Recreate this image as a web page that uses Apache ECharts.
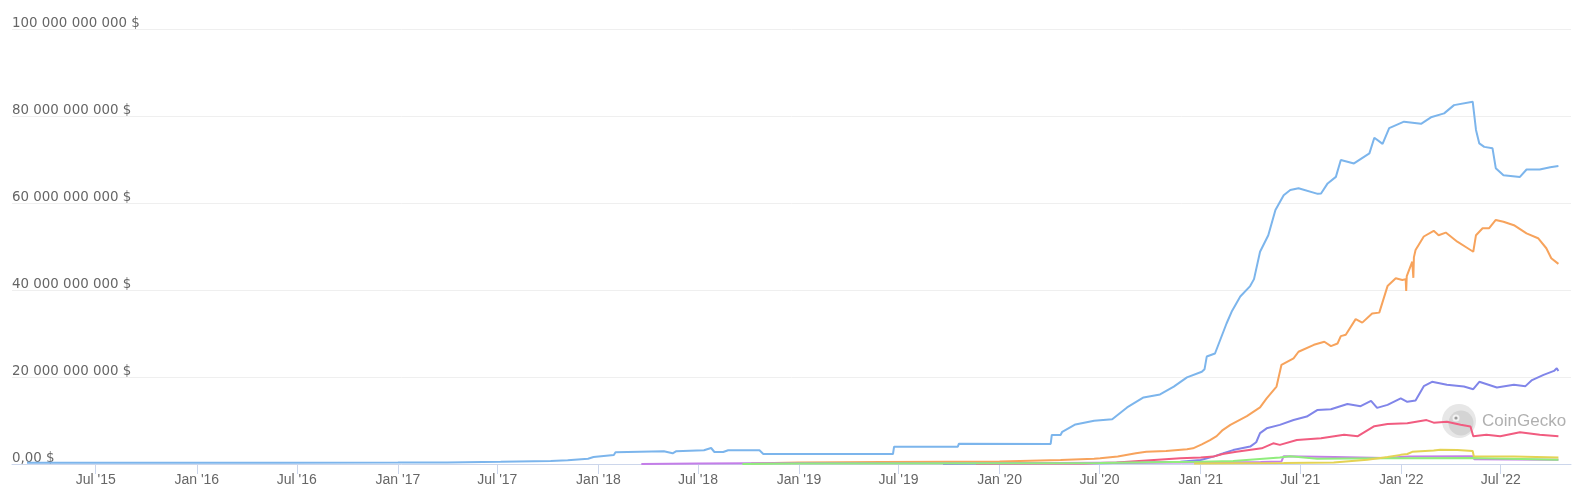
<!DOCTYPE html>
<html>
<head>
<meta charset="utf-8">
<script src="https://cdn.jsdelivr.net/npm/echarts@6.0.0/dist/echarts.min.js"></script>
<style>
html,body{margin:0;padding:0;background:#fff;}
#chart{width:1584px;height:502px;}
</style>
</head>
<body>
<div id="chart"></div>
<script>
// ---- data (values in billions of USD) ----
const tickDates = ['2015-07-01','2016-01-01','2016-07-01','2017-01-01','2017-07-01','2018-01-01','2018-07-01','2019-01-01','2019-07-01','2020-01-01','2020-07-01','2021-01-01','2021-07-01','2022-01-01','2022-07-01'];
const tickLabels = ["Jul '15","Jan '16","Jul '16","Jan '17","Jul '17","Jan '18","Jul '18","Jan '19","Jul '19","Jan '20","Jul '20","Jan '21","Jul '21","Jan '22","Jul '22"];
const yTicks = [0, 20, 40, 60, 80, 100];

const usdt = [['2015-02-26',0.3],['2016-06-01',0.3],['2017-01-01',0.32],['2017-04-01',0.35],['2017-07-07',0.5],['2017-10-06',0.69],['2017-11-06',0.85],['2017-12-13',1.22],['2017-12-23',1.6],['2018-01-29',2.07],['2018-02-01',2.69],['2018-04-30',2.92],['2018-05-16',2.46],['2018-05-22',2.92],['2018-07-12',3.15],['2018-07-25',3.68],['2018-07-31',2.76],['2018-08-16',2.76],['2018-08-25',3.15],['2018-10-21',3.15],['2018-10-28',2.3],['2019-06-21',2.3],['2019-06-23',3.98],['2019-10-17',3.98],['2019-10-19',4.67],['2020-04-03',4.6],['2020-04-05',6.67],['2020-04-21',6.67],['2020-04-24',7.4],['2020-05-18',9.1],['2020-06-21',9.95],['2020-07-24',10.3],['2020-08-20',13.0],['2020-09-19',15.3],['2020-10-19',16.0],['2020-11-13',17.8],['2020-12-07',19.9],['2021-01-03',21.2],['2021-01-08',21.8],['2021-01-12',24.7],['2021-01-27',25.4],['2021-02-17',32.3],['2021-02-27',35.2],['2021-03-14',38.5],['2021-04-01',40.9],['2021-04-08',42.5],['2021-04-19',48.8],['2021-05-04',52.6],['2021-05-17',58.4],['2021-06-01',61.8],['2021-06-13',63.0],['2021-06-28',63.4],['2021-08-02',62.1],['2021-08-08',62.2],['2021-08-20',64.5],['2021-09-04',66.0],['2021-09-13',69.9],['2021-10-07',69.1],['2021-11-04',71.4],['2021-11-13',75.0],['2021-11-28',73.6],['2021-12-10',77.2],['2022-01-06',78.7],['2022-02-06',78.2],['2022-02-24',79.7],['2022-03-20',80.6],['2022-04-07',82.5],['2022-05-11',83.3],['2022-05-17',76.8],['2022-05-23',73.7],['2022-06-01',72.9],['2022-06-16',72.6],['2022-06-22',68.0],['2022-07-06',66.4],['2022-08-05',66.0],['2022-08-17',67.7],['2022-09-10',67.7],['2022-09-29',68.2],['2022-10-14',68.5]];

const usdc = [['2018-10-06',0.1],['2018-11-15',0.25],['2019-01-01',0.35],['2019-06-01',0.45],['2019-10-01',0.5],['2020-01-01',0.55],['2020-04-21',0.9],['2020-06-21',1.2],['2020-07-02',1.3],['2020-08-03',1.7],['2020-09-05',2.45],['2020-09-24',2.8],['2020-10-30',3.0],['2020-12-07',3.4],['2020-12-18',3.6],['2021-01-03',4.5],['2021-01-18',5.5],['2021-01-30',6.4],['2021-02-10',7.8],['2021-02-24',9.0],['2021-03-26',11.0],['2021-04-19',13.0],['2021-05-01',15.1],['2021-05-19',17.8],['2021-05-28',22.8],['2021-06-19',24.3],['2021-06-28',25.8],['2021-07-26',27.4],['2021-08-14',28.1],['2021-08-26',27.1],['2021-09-07',27.7],['2021-09-13',29.4],['2021-09-22',29.7],['2021-10-10',33.3],['2021-10-22',32.5],['2021-11-09',34.6],['2021-11-22',34.8],['2021-12-07',40.9],['2021-12-22',42.7],['2022-01-03',42.3],['2022-01-09',42.5],['2022-01-10',39.8],['2022-01-11',43.2],['2022-01-21',46.5],['2022-01-23',42.8],['2022-01-24',47.5],['2022-01-27',49.2],['2022-02-11',52.3],['2022-03-01',53.6],['2022-03-10',52.6],['2022-03-23',53.2],['2022-04-13',51.1],['2022-05-02',49.6],['2022-05-12',48.8],['2022-05-17',52.6],['2022-05-29',54.2],['2022-06-10',54.2],['2022-06-22',56.1],['2022-07-06',55.7],['2022-07-25',54.9],['2022-08-17',53.0],['2022-09-07',51.9],['2022-09-22',49.6],['2022-10-01',47.3],['2022-10-14',46.0]];

const busd = [['2019-09-20',0.02],['2020-01-01',0.1],['2020-04-01',0.15],['2020-07-01',0.2],['2020-09-15',0.35],['2020-11-25',0.5],['2021-01-01',0.9],['2021-01-24',1.7],['2021-02-10',2.4],['2021-03-01',3.2],['2021-04-01',4.0],['2021-04-12',5.0],['2021-04-19',7.1],['2021-05-01',8.2],['2021-05-25',9.0],['2021-06-19',10.1],['2021-07-13',10.9],['2021-08-01',12.4],['2021-08-26',12.6],['2021-09-25',13.8],['2021-10-19',13.3],['2021-11-07',14.5],['2021-11-18',12.9],['2021-12-07',13.6],['2021-12-31',15.1],['2022-01-12',14.3],['2022-01-27',14.6],['2022-02-11',17.9],['2022-02-26',18.9],['2022-03-25',18.2],['2022-04-25',17.8],['2022-05-12',17.2],['2022-05-23',18.9],['2022-06-24',17.6],['2022-07-25',18.2],['2022-08-15',17.9],['2022-08-27',19.3],['2022-09-17',20.5],['2022-10-06',21.4],['2022-10-11',22.0],['2022-10-14',21.4]];

const dai = [['2019-11-19',0.03],['2020-03-01',0.1],['2020-06-01',0.12],['2020-08-01',0.35],['2020-10-01',0.85],['2020-11-25',1.3],['2021-01-01',1.5],['2021-01-24',1.7],['2021-02-10',2.3],['2021-03-07',2.8],['2021-04-22',3.6],['2021-05-13',4.75],['2021-05-25',4.4],['2021-06-25',5.5],['2021-08-08',5.9],['2021-09-19',6.7],['2021-10-14',6.4],['2021-11-13',8.7],['2021-12-07',9.2],['2022-01-12',9.35],['2022-02-16',10.1],['2022-03-01',9.5],['2022-03-25',9.7],['2022-04-19',9.0],['2022-05-07',8.6],['2022-05-12',6.4],['2022-06-05',6.7],['2022-06-30',6.4],['2022-08-05',7.3],['2022-09-10',6.7],['2022-10-14',6.4]];

const tusd = [['2018-03-20',0.02],['2018-07-01',0.1],['2018-10-01',0.15],['2019-06-01',0.2],['2020-01-01',0.15],['2020-07-01',0.3],['2021-01-01',0.35],['2021-04-20',0.45],['2021-05-28',0.6],['2021-06-01',1.8],['2021-09-01',1.6],['2021-12-01',1.4],['2022-01-15',1.7],['2022-05-11',1.8],['2022-05-14',1.1],['2022-10-14',1.0]];

const usdp = [['2018-09-20',0.02],['2019-01-01',0.1],['2020-01-01',0.2],['2020-07-01',0.25],['2020-10-01',0.4],['2021-01-01',0.5],['2021-03-01',0.7],['2021-05-25',1.5],['2021-06-13',1.8],['2021-08-01',1.2],['2021-12-01',1.3],['2022-05-11',1.4],['2022-05-14',1.1],['2022-10-14',1.0]];

const frax = [['2020-12-20',0.1],['2021-03-01',0.2],['2021-06-01',0.25],['2021-08-31',0.35],['2021-10-31',1.0],['2021-11-24',1.4],['2021-12-07',1.6],['2021-12-31',2.1],['2022-01-12',2.3],['2022-01-21',2.8],['2022-01-24',3.05],['2022-03-01',3.1],['2022-03-13',3.3],['2022-04-13',3.2],['2022-05-11',3.0],['2022-05-13',1.8],['2022-07-25',1.7],['2022-10-14',1.5]];

// ---- chart ----
function toTs(s){ const p = s.split('-').map(Number); return Date.UTC(p[0], p[1]-1, p[2]); }
const DAY = 864e5;
const anchor = toTs('2015-07-01');
const tickTs = tickDates.map(toTs);
const labelByTs = {};
tickTs.forEach((t,i)=>{ labelByTs[t] = tickLabels[i]; });

function conv(arr){ return arr.map(d => [toTs(d[0]), d[1]]); }
function fmtY(v){
  if (v === 0) return '0,00 $';
  return String(Math.round(v*1e9)).replace(/\B(?=(\d{3})+(?!\d))/g, ' ') + ' $';
}

const seriesDefs = [
  {name:'USDT', data: usdt, color:'#7cb5ec'},
  {name:'USDC', data: usdc, color:'#f7a35c'},
  {name:'BUSD', data: busd, color:'#8085e9'},
  {name:'DAI', data: dai, color:'#f15c80'},
  {name:'TUSD', data: tusd, color:'#c47ee8'},
  {name:'USDP', data: usdp, color:'#90ed7d'},
  {name:'FRAX', data: frax, color:'#e4d354'}
];

const chart = echarts.init(document.getElementById('chart'), null, {renderer:'canvas'});
chart.setOption({
  animation: false,
  backgroundColor: '#ffffff',
  grid: {left: 12, right: 13, top: 29, height: 435, containLabel: false},
  xAxis: {
    type: 'value',
    min: anchor - 152.3*DAY,
    max: anchor + 2684.9*DAY,
    axisLine: {show: true, lineStyle: {color: '#ccd6eb', width: 1}},
    axisTick: {show: true, length: 10, lineStyle: {color: '#ccd6eb'}, customValues: tickTs},
    axisLabel: {
      customValues: tickTs,
      formatter: v => labelByTs[v] || '',
      color: '#666666',
      fontFamily: '"Liberation Sans Narrow", "Liberation Sans", sans-serif',
      fontSize: 14,
      margin: 9
    },
    splitLine: {show: false}
  },
  yAxis: {
    type: 'value',
    min: 0, max: 100, interval: 20,
    axisLine: {show: false},
    axisTick: {show: false},
    axisLabel: {
      inside: true,
      margin: 0,
      verticalAlign: 'bottom',
      lineHeight: 10,
      color: '#666666',
      fontFamily: '"DejaVu Sans", sans-serif',
      fontSize: 13.4,
      formatter: fmtY
    },
    splitLine: {show: true, lineStyle: {color: '#efefef', width: 1}}
  },
  graphic: [
    {type:'circle', z: 0, shape:{cx:1459, cy:421, r:17}, style:{fill:'#e7e7e7'}},
    {type:'circle', z: 0, shape:{cx:1461, cy:423, r:12.5}, style:{fill:'#d4d4d4'}},
    {type:'circle', z: 0, shape:{cx:1456, cy:418, r:3.5}, style:{fill:'#f2f2f2'}},
    {type:'circle', z: 0, shape:{cx:1456, cy:418, r:1.6}, style:{fill:'#9a9a9a'}},
    {type:'text', z: 0, x: 1482, y: 421, style:{text:'CoinGecko', fill:'#b0b0b0', font:'17px "Liberation Sans", Arial, sans-serif', verticalAlign:'middle'}}
  ],
  series: seriesDefs.map(s => ({
    name: s.name,
    type: 'line',
    data: conv(s.data),
    showSymbol: false,
    symbol: 'none',
    lineStyle: {width: 2, color: s.color},
    itemStyle: {color: s.color},
    emphasis: {disabled: true},
    z: 3
  }))
});
</script>
</body>
</html>
